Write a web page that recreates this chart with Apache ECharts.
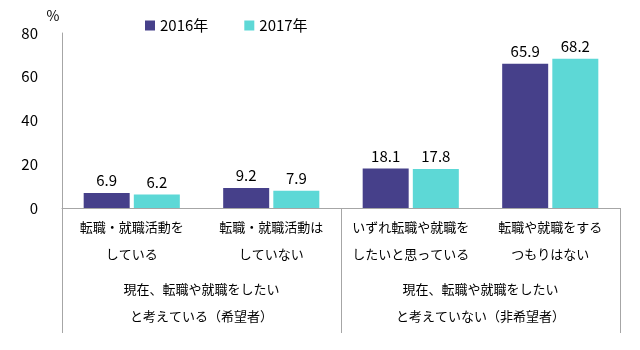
<!DOCTYPE html>
<html><head><meta charset="utf-8">
<script src="https://cdn.jsdelivr.net/npm/echarts@6/dist/echarts.min.js"></script>
<style>html,body{margin:0;padding:0;background:#fff}#c{width:640px;height:350px}</style>
</head><body><div id="c"></div>
<script>
const categories = ['転職・就職活動を\nしている', '転職・就職活動は\nしていない', 'いずれ転職や就職を\nしたいと思っている', '転職や就職をする\nつもりはない'];
const groups = ['現在、転職や就職をしたい\nと考えている（希望者）', '現在、転職や就職をしたい\nと考えていない（非希望者）'];
const seriesNames = ['2016年', '2017年'];
const values2016 = [6.9, 9.2, 18.1, 65.9];
const values2017 = [6.2, 7.9, 17.8, 68.2];
const yTicks = [0, 20, 40, 60, 80];

const font = '"Noto Sans CJK JP", "Noto Sans", sans-serif';
const chart = echarts.init(document.getElementById('c'));
chart.setOption({
  animation: false,
  textStyle: { fontFamily: font },
  color: ['#46408A', '#5DD8D6'],
  legend: {
    top: 13, left: 140, itemWidth: 10, itemHeight: 10, itemGap: 36,
    icon: 'rect',
    textStyle: { fontSize: 15, color: '#000', fontFamily: font },
    data: seriesNames
  },
  grid: { left: 62, right: 20, top: 33, bottom: 142, containLabel: false },
  xAxis: [
    {
      type: 'category', data: categories,
      axisLine: { lineStyle: { color: '#A6A6A6', width: 1 } },
      axisTick: { show: false },
      axisLabel: { interval: 0, fontSize: 13, lineHeight: 27, margin: 6, color: '#000', fontFamily: font }
    },
    {
      type: 'category', data: groups, position: 'bottom',
      axisLine: { show: false },
      axisTick: { show: true, length: 125, lineStyle: { color: '#A6A6A6' } },
      axisLabel: { interval: 0, fontSize: 13, lineHeight: 27, margin: 68, color: '#000', fontFamily: font }
    }
  ],
  yAxis: {
    type: 'value', min: yTicks[0], max: yTicks[yTicks.length - 1], interval: 20,
    name: '%', nameGap: 10,
    nameTextStyle: { fontSize: 14, color: '#000', padding: [0, 18, 0, 0], fontFamily: font },
    axisLine: { show: true, lineStyle: { color: '#A6A6A6' } },
    axisTick: { show: false },
    splitLine: { show: false },
    axisLabel: { fontSize: 15, color: '#000', margin: 24, fontFamily: font }
  },
  series: [
    {
      name: seriesNames[0], type: 'bar', data: values2016, xAxisIndex: 0,
      barWidth: 46, barGap: '9%',
      label: { show: true, position: 'top', distance: 5, fontSize: 15, color: '#000', fontFamily: font }
    },
    {
      name: seriesNames[1], type: 'bar', data: values2017, xAxisIndex: 0,
      barWidth: 46,
      label: { show: true, position: 'top', distance: 5, fontSize: 15, color: '#000', fontFamily: font }
    }
  ]
});
</script></body></html>
